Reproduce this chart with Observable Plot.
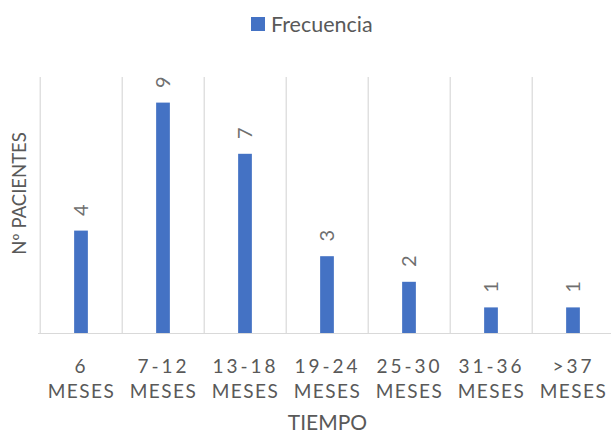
<!DOCTYPE html>
<html>
<head>
<meta charset="utf-8">
<script src="https://cdn.jsdelivr.net/npm/d3@7"></script>
<script src="https://cdn.jsdelivr.net/npm/@observablehq/plot@0.6"></script>
<style>
  html, body { margin: 0; padding: 0; background: #fff; overflow: hidden; }
  body { width: 611px; height: 433px; position: relative; font-family: Lato, "Open Sans", sans-serif; }
  #legend { position: relative; height: 48px; }
  #legend .swatch { position: absolute; left: 251px; top: 17px; width: 14px; height: 14px; background: #4472C4; }
  #legend .name { position: absolute; left: 271px; top: 10px; font-size: 21.5px; line-height: 28px; color: #595959; }
  g[aria-description="tick labels"] text { letter-spacing: 3px; }
  g[aria-description="tick labels"] tspan:nth-child(2) { letter-spacing: 1.5px; }
  #chart svg { display: block; max-width: none !important; }
</style>
</head>
<body>
<div id="legend"><span class="swatch"></span><span class="name">Frecuencia</span></div>
<div id="chart"></div>
<script>
// Time since diagnosis (categories) and number of patients per group
const categories = ["6 MESES", "7-12 MESES", "13-18 MESES", "19-24 MESES", "25-30 MESES", "31-36 MESES", ">37 MESES"];
const tickLabels = ["6\nMESES", "7-12\nMESES", "13-18\nMESES", "19-24\nMESES", "25-30\nMESES", "31-36\nMESES", ">37\nMESES"];
const frecuencia = [4, 9, 7, 3, 2, 1, 1];
const yLabel = "Nº PACIENTES";
const xLabel = "TIEMPO";

const data = categories.map((c, i) => ({cat: c, tick: tickLabels[i], value: frecuencia[i]}));

const width = 620, height = 385;
const marginLeft = 38, marginRight = 4;
const bw = (width - marginLeft - marginRight) / categories.length;
const barWidth = 14.3;
const inset = (bw - barWidth) / 2;
const grid = "#d9d9d9";
const ink = "#595959";

const chart = Plot.plot({
  width, height,
  marginLeft, marginRight,
  marginTop: 29,
  marginBottom: 100,
  style: {fontFamily: "Lato, 'Open Sans', sans-serif", color: ink, background: "transparent"},
  x: {type: "band", domain: categories, padding: 0, axis: null},
  y: {domain: [0, 10], axis: null},
  marks: [
    // category separators
    Plot.ruleX(categories, {x: d => d, dx: -bw / 2, stroke: grid, strokeWidth: 1.2}),
    Plot.ruleX(categories.slice(-1), {x: d => d, dx: bw / 2, stroke: grid, strokeWidth: 1.2}),
    Plot.ruleY([0], {stroke: grid, strokeWidth: 1.2}),
    Plot.barY(data, {x: "cat", y: "value", fill: "#4472C4", insetLeft: inset, insetRight: inset}),
    // value labels
    Plot.text(data, {x: "cat", y: "value", text: d => String(d.value), rotate: -90, dy: -21,
      fontSize: 20, fill: "#6f6f6f", textAnchor: "middle"}),
    // category labels
    Plot.text(data, {x: "cat", text: "tick", frameAnchor: "bottom", lineAnchor: "top", dy: 21.5,
      lineHeight: 1.316, fontSize: 19, fill: ink, ariaDescription: "tick labels"}),
    // axis titles
    Plot.text([xLabel], {frameAnchor: "bottom", lineAnchor: "middle", dy: 90, fontSize: 21, fill: ink}),
    Plot.text([yLabel], {frameAnchor: "left", textAnchor: "middle", lineAnchor: "middle", rotate: -90,
      dx: -18.5, dy: -12, fontSize: 18.5, fill: ink})
  ]
});
document.getElementById("chart").appendChild(chart);
</script>
</body>
</html>
